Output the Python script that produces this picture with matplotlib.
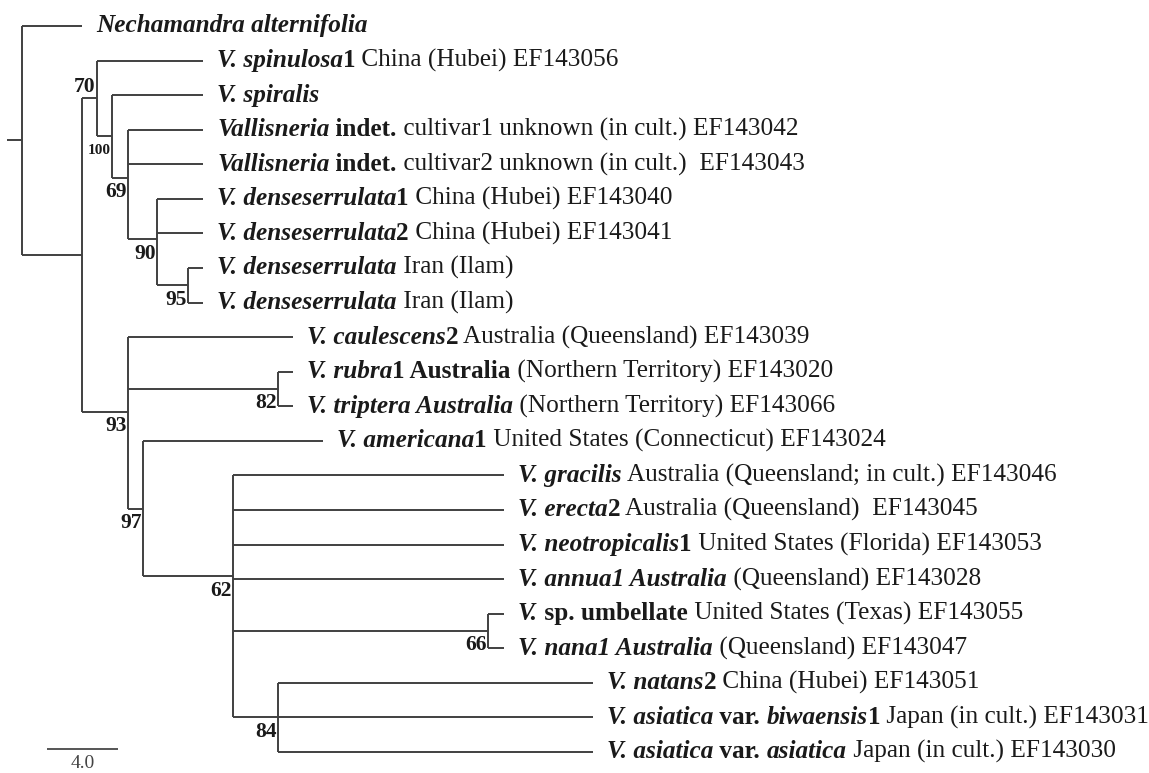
import matplotlib
matplotlib.use("Agg")
import matplotlib.pyplot as plt

plt.rcParams['font.family'] = ['Liberation Serif', 'DejaVu Serif']

# tips, top to bottom
tips = ["nech", "spin", "spir", "cult1", "cult2", "dens1", "dens2", "iran1", "iran2",
        "caul", "rubra", "trip", "amer", "grac", "erec", "neo", "annua", "umb", "nana",
        "nat", "biw", "asi"]

# edges: child, parent, branch length
edge_child = ["nech", "in", "n70", "n93", "spin", "n100", "spir", "n69",
              "cult1", "cult2", "n90", "dens1", "dens2", "n95", "iran1", "iran2",
              "caul", "n82", "n97", "rubra", "trip", "amer", "n62",
              "grac", "erec", "neo", "annua", "n66", "n84", "umb", "nana",
              "nat", "biw", "asi"]
edge_parent = ["root", "root", "in", "in", "n70", "n70", "n100", "n100",
               "n69", "n69", "n69", "n90", "n90", "n90", "n95", "n95",
               "n93", "n93", "n93", "n82", "n82", "n97", "n97",
               "n62", "n62", "n62", "n62", "n62", "n62", "n66", "n66",
               "n84", "n84", "n84"]
edge_len = [3.38, 3.38, 0.85, 2.59, 5.97, 0.85, 5.13, 0.90,
            4.23, 4.23, 1.63, 2.59, 2.59, 1.75, 0.85, 0.85,
            9.30, 8.45, 0.85, 0.85, 0.85, 10.14, 5.07,
            15.27, 15.27, 15.27, 15.27, 14.37, 2.54, 0.90, 0.90,
            17.75, 17.75, 17.75]

# bootstrap support
boot_node = ["n70", "n100", "n69", "n90", "n95", "n93", "n82", "n97", "n62", "n66", "n84"]
boot_val = ["70", "100", "69", "90", "95", "93", "82", "97", "62", "66", "84"]

# tip labels: (text, style) with style r / b / bi
tip_text = [
    [("Nechamandra alternifolia", "bi")],
    [("V. spinulosa", "bi"), ("1", "b"), (" China (Hubei) EF143056", "r")],
    [("V. spiralis", "bi")],
    [("Vallisneria", "bi"), (" indet.", "b"), (" cultivar1 unknown (in cult.) EF143042", "r")],
    [("Vallisneria", "bi"), (" indet.", "b"), (" cultivar2 unknown (in cult.)  EF143043", "r")],
    [("V. denseserrulata", "bi"), ("1", "b"), (" China (Hubei) EF143040", "r")],
    [("V. denseserrulata", "bi"), ("2", "b"), (" China (Hubei) EF143041", "r")],
    [("V. denseserrulata", "bi"), (" Iran (Ilam)", "r")],
    [("V. denseserrulata", "bi"), (" Iran (Ilam)", "r")],
    [("V. caulescens", "bi"), ("2", "b"), (" Australia (Queensland) EF143039", "r")],
    [("V. rubra", "bi"), ("1 Australia", "b"), (" (Northern Territory) EF143020", "r")],
    [("V. triptera Australia", "bi"), (" (Northern Territory) EF143066", "r")],
    [("V. americana", "bi"), ("1", "b"), (" United States (Connecticut) EF143024", "r")],
    [("V. gracilis", "bi"), (" Australia (Queensland; in cult.) EF143046", "r")],
    [("V. erecta", "bi"), ("2", "b"), (" Australia (Queensland)  EF143045", "r")],
    [("V. neotropicalis", "bi"), ("1", "b"), (" United States (Florida) EF143053", "r")],
    [("V. annua1 Australia", "bi"), (" (Queensland) EF143028", "r")],
    [("V.", "bi"), (" sp. umbellate", "b"), (" United States (Texas) EF143055", "r")],
    [("V. nana1 Australia", "bi"), (" (Queensland) EF143047", "r")],
    [("V. natans", "bi"), ("2", "b"), (" China (Hubei) EF143051", "r")],
    [("V. asiatica", "bi"), (" var. ", "b"), ("biwaensis", "bi"), ("1", "b"),
     (" Japan (in cult.) EF143031", "r")],
    [("V. asiatica", "bi"), (" var. ", "b"), ("asiatica", "bi"),
     (" Japan (in cult.) EF143030", "r")],
]

scale_len = 4.0

# layout
x = {"root": 0.0}
for c, p, l in zip(edge_child, edge_parent, edge_len):
    x[c] = x[p] + l
children = {}
for c, p in zip(edge_child, edge_parent):
    children.setdefault(p, []).append(c)
y = {t: i for i, t in enumerate(tips)}


def get_y(n):
    if n not in y:
        y[n] = sum(get_y(c) for c in children[n]) / len(children[n])
    return y[n]


get_y("root")

fig = plt.figure(figsize=(11.49, 7.73), dpi=100)
ax = fig.add_axes([0, 0, 1, 1])
ax.set_xlim(-1.239, 63.49)
ax.set_ylim(21.61, -0.752)
ax.axis("off")

lc = "#404040"
lw = 1.4
for c, p in zip(edge_child, edge_parent):
    ax.hlines(y[c], x[p], x[c], color=lc, lw=lw)
for p, ch in children.items():
    ys = [y[c] for c in ch]
    ax.vlines(x[p], min(ys), max(ys), color=lc, lw=lw)
ax.hlines(y["root"], -0.85, 0, color=lc, lw=lw)

styles = {"r": dict(weight="normal", style="normal"),
          "b": dict(weight="bold", style="normal"),
          "bi": dict(weight="bold", style="italic")}
fs = 18.2
for t, segs in zip(tips, tip_text):
    prev = None
    for s, st in segs:
        if prev is None:
            prev = ax.annotate(s, xy=(x[t], y[t]), xytext=(10, 0), textcoords="offset points",
                               va="center", ha="left", fontsize=fs, color="#1a1a1a", **styles[st])
        else:
            prev = ax.annotate(s, xy=(1, 0), xycoords=prev, va="bottom", ha="left",
                               fontsize=fs, color="#1a1a1a", **styles[st])

for n, v in zip(boot_node, boot_val):
    dy = -0.32 if n == "n70" else 0.42
    ax.annotate(v, xy=(x[n], y[n] + dy), xytext=(-1, 0), textcoords="offset points",
                ha="right", va="center", fontsize=11 if v == "100" else 15.5,
                weight="bold", color="#1a1a1a")

# scale bar
sb_x = 1.41
sb_y = y["asi"] - 0.08
ax.hlines(sb_y, sb_x, sb_x + scale_len, color="#555555", lw=lw)
ax.text(sb_x + scale_len / 2, sb_y + 0.42, "%.1f" % scale_len, ha="center", va="center",
        fontsize=14, color="#444444")

fig.savefig("out.png", dpi=100)
